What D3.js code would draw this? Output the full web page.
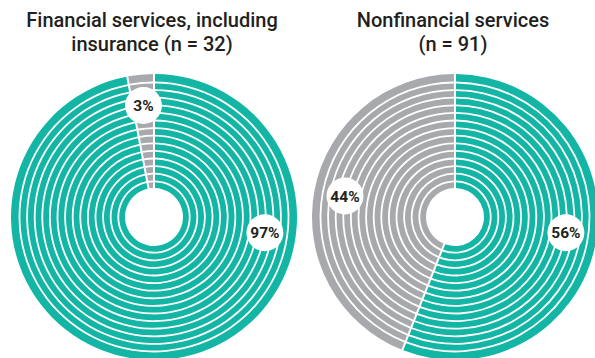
<!DOCTYPE html>
<html>
<head>
<meta charset="utf-8">
<script src="https://cdn.jsdelivr.net/npm/d3@7"></script>
<style>
  body { margin: 0; background: #fff; }
  text { font-family: Roboto, "Liberation Sans", sans-serif; fill: #231f20; }
</style>
</head>
<body>
<div id="chart"></div>
<script>
// data
var titles = [
  ["Financial services, including", "insurance (n = 32)"],
  ["Nonfinancial services", "(n = 91)"]
];
var sliceNames = ["Yes", "No"];
var financialValues = [97, 3];
var nonfinancialValues = [56, 44];
var colors = ["#13b5a4", "#a7a9ac"];

var width = 595,
    height = 358,
    outerR = 143,
    innerR = 29,
    rings = 15,
    ringGap = 1.8;

var svg = d3.select("#chart")
  .append("svg")
  .attr("width", width)
  .attr("height", height);

var centers = [[154, 217], [455, 217]];

var pie = d3.pie().sort(null).value(function (d) { return d; });

var ringScale = d3.scaleLinear()
  .domain([0, rings])
  .range([innerR, outerR]);

var drawPie = function (values, idx) {
  var g = svg.append("g")
    .attr("transform", "translate(" + centers[idx][0] + "," + centers[idx][1] + ")");

  var slices = pie(values);

  d3.range(rings).forEach(function (i) {
    var arc = d3.arc()
      .innerRadius(ringScale(i))
      .outerRadius(ringScale(i + 1) - (i < rings - 1 ? ringGap : 0))
      .padAngle(2 / 100)
      .padRadius(100);

    g.selectAll(null)
      .data(slices)
      .enter()
      .append("path")
      .attr("d", arc)
      .attr("fill", function (d, j) { return colors[j]; });
  });

  // labels
  var labelR = 112;
  slices.forEach(function (s) {
    var a = (s.startAngle + s.endAngle) / 2;
    if (s.endAngle - s.startAngle > Math.PI) {
      a = s.startAngle + 0.545 * Math.PI; // big slice: label sits on the right side
    }
    var x = labelR * Math.sin(a),
        y = -labelR * Math.cos(a);

    g.append("circle")
      .attr("cx", x)
      .attr("cy", y)
      .attr("r", 18.5)
      .attr("fill", "#fff");

    g.append("text")
      .attr("x", x)
      .attr("y", y)
      .attr("dy", "0.36em")
      .attr("text-anchor", "middle")
      .style("font-size", "15.5px")
      .style("font-weight", 700)
      .text(s.data + "%");
  });

  // title
  var t = svg.append("text")
    .attr("text-anchor", "middle")
    .style("font-size", "20px")
    .style("font-weight", 500);

  titles[idx].forEach(function (line, k) {
    t.append("tspan")
      .attr("x", centers[idx][0] - 2)
      .attr("y", 27 + k * 24)
      .text(line);
  });
};

drawPie(financialValues, 0);
drawPie(nonfinancialValues, 1);
</script>
</body>
</html>
